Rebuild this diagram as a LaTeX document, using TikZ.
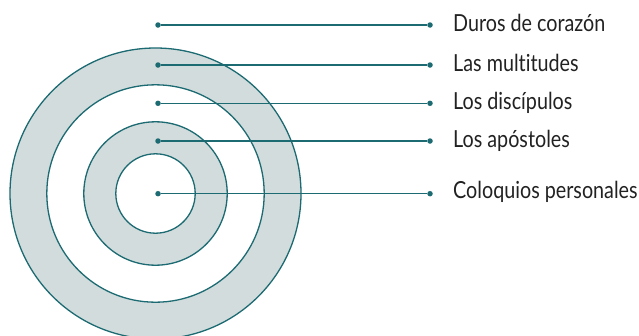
\documentclass[tikz,border=0pt]{standalone}
\usepackage{fontspec}
\newfontfamily\labelfont{Lato}[FakeStretch=0.84,Ligatures=NoCommon]
\definecolor{ringteal}{HTML}{1C6A72}
\definecolor{ringgray}{HTML}{D2DCDC}
\definecolor{labelgray}{HTML}{222222}
\tikzset{
  ring/.style={draw=ringteal,line width=1.3pt},
  dot/.style={circle,fill=ringteal,inner sep=0pt,minimum size=5.5pt},
  pointer/.style={draw=ringteal,line width=1.3pt},
  tag/.style={anchor=base west,inner sep=0pt,text=labelgray,font=\labelfont\fontsize{23.5}{28}\selectfont}
}
\begin{document}
\begin{tikzpicture}[x=1pt,y=-1pt]
  \useasboundingbox (0,0) rectangle (639,335);
  \draw[ring,fill=ringgray] (155.5,193.5) circle[radius=145.5];
  \draw[ring,fill=white] (155.5,193.5) circle[radius=108.7];
  \draw[ring,fill=ringgray] (155.5,193.5) circle[radius=71.7];
  \draw[ring,fill=white] (155.5,193.5) circle[radius=39.7];
  \node[dot] (duroL) at (158,25) {};
  \node[dot] (multL) at (158,65) {};
  \node[dot] (discL) at (158,103.3) {};
  \node[dot] (apoL) at (158,141) {};
  \node[dot] (coloL) at (158,193.7) {};
  \node[dot] (duroR) at (430,25) {};
  \node[dot] (multR) at (430,65) {};
  \node[dot] (discR) at (430,103.3) {};
  \node[dot] (apoR) at (430,141) {};
  \node[dot] (coloR) at (430,193.7) {};
  \draw[pointer] (duroL) -- (duroR);
  \draw[pointer] (multL) -- (multR);
  \draw[pointer] (discL) -- (discR);
  \draw[pointer] (apoL) -- (apoR);
  \draw[pointer] (coloL) -- (coloR);
  \node[tag] (duro) at (453,31) {Duros de corazón};
  \node[tag] (mult) at (453,71.3) {Las multitudes};
  \node[tag] (disc) at (453,109.6) {Los discípulos};
  \node[tag] (apo) at (453,147.3) {Los apóstoles};
  \node[tag] (colo) at (453,198.8) {Coloquios personales};
\end{tikzpicture}
\end{document}
